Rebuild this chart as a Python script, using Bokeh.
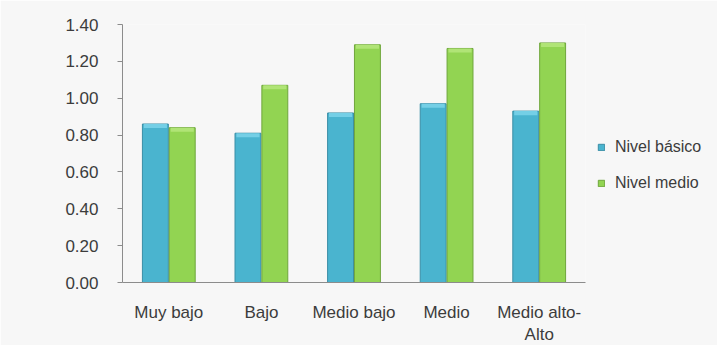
from bokeh.plotting import figure
from bokeh.models import ColumnDataSource, FactorRange, Range1d, Legend, LegendItem, FixedTicker, NumeralTickFormatter
from bokeh.transform import dodge
from bokeh.embed import file_html
from bokeh.resources import INLINE

categories = ["Muy bajo", "Bajo", "Medio bajo", "Medio", "Medio alto-\nAlto"]
nivel_basico = [0.86, 0.81, 0.92, 0.97, 0.93]
nivel_medio = [0.84, 1.07, 1.29, 1.27, 1.30]
y_ticks = [0.0, 0.2, 0.4, 0.6, 0.8, 1.0, 1.2, 1.4]

FONT = "Liberation Sans"
TXT = "#3c3c3c"
BG = "#f7f7f7"

src = ColumnDataSource(dict(
    cat=categories,
    basico=nivel_basico,
    medio=nivel_medio,
    basico_hl=[v - 0.022 for v in nivel_basico],
    medio_hl=[v - 0.022 for v in nivel_medio],
))

p = figure(x_range=FactorRange(*categories, range_padding=0),
           y_range=Range1d(0, 1.4),
           frame_width=463, frame_height=258,
           min_border_left=122, min_border_right=124,
           min_border_top=24, min_border_bottom=60,
           output_backend="svg", toolbar_location=None)
p.background_fill_color = BG
p.border_fill_color = BG
p.outline_line_color = None
p.xgrid.visible = False
p.ygrid.visible = False

off, w = 0.145, 0.28
rb = p.vbar(x=dodge("cat", -off, range=p.x_range), top="basico", width=w, source=src,
            fill_color="#4ab4cf", line_color="#3a8ea6", line_width=1)
rm = p.vbar(x=dodge("cat", off, range=p.x_range), top="medio", width=w, source=src,
            fill_color="#92d452", line_color="#6fa63c", line_width=1)
# top bevel highlight
p.vbar(x=dodge("cat", -off, range=p.x_range), top="basico", bottom="basico_hl", width=w - 0.03,
       source=src, fill_color="#74cfe6", line_color=None)
p.vbar(x=dodge("cat", off, range=p.x_range), top="medio", bottom="medio_hl", width=w - 0.03,
       source=src, fill_color="#b0e476", line_color=None)

ya = p.yaxis[0]
ya.ticker = FixedTicker(ticks=y_ticks)
ya.formatter = NumeralTickFormatter(format="0.00")
ya.axis_line_color = "#8c8c8c"
ya.major_tick_line_color = "#8c8c8c"
ya.major_tick_in = 0
ya.major_tick_out = 5
ya.minor_tick_line_color = None
ya.major_label_standoff = 19
ya.major_label_text_font = FONT
ya.major_label_text_font_size = "17px"
ya.major_label_text_color = TXT

xa = p.xaxis[0]
xa.axis_line_color = "#8c8c8c"
xa.major_tick_line_color = None
xa.minor_tick_line_color = None
xa.major_label_standoff = 14
xa.major_label_text_font = FONT
xa.major_label_text_font_size = "17px"
xa.major_label_text_color = TXT

legend = Legend(items=[LegendItem(label="Nivel básico", renderers=[rb]),
                       LegendItem(label="Nivel medio", renderers=[rm])],
                location=(12, 89))
legend.background_fill_alpha = 0
legend.border_line_alpha = 0
legend.padding = 0
legend.margin = 0
legend.glyph_width = 8
legend.glyph_height = 8
legend.label_standoff = 10
legend.label_height = 20
legend.spacing = 16
legend.label_text_font = FONT
legend.label_text_font_size = "16px"
legend.label_text_color = TXT
p.add_layout(legend, "right")

open("out.html", "w").write(file_html(p, INLINE))
